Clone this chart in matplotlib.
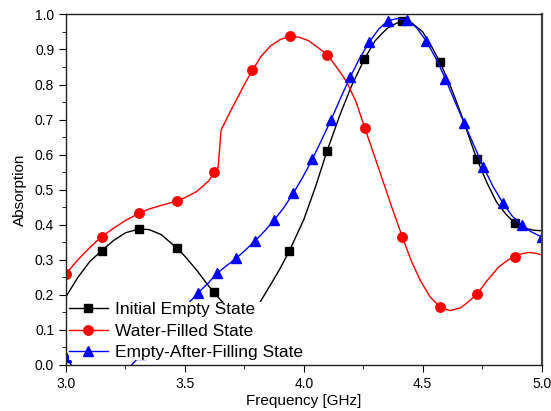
import numpy as np
import matplotlib.pyplot as plt
from matplotlib.ticker import MultipleLocator, FormatStrFormatter

plt.rcParams['font.family'] = ['Liberation Sans', 'DejaVu Sans']

# Initial empty state (black squares)
f_empty = [3.00, 3.05, 3.10, 3.15, 3.20, 3.25, 3.307, 3.35, 3.40, 3.467, 3.50, 3.55,
           3.60, 3.624, 3.65, 3.70, 3.75, 3.80, 3.83, 3.87, 3.90, 3.939, 4.00, 4.05,
           4.098, 4.15, 4.20, 4.255, 4.30, 4.35, 4.39, 4.414, 4.45, 4.50, 4.54,
           4.573, 4.62, 4.67, 4.70, 4.727, 4.77, 4.81, 4.85, 4.888, 4.93, 4.97, 5.00]
a_empty = [0.195, 0.25, 0.295, 0.326, 0.355, 0.377, 0.388, 0.386, 0.372, 0.333, 0.31, 0.27,
           0.225, 0.207, 0.185, 0.155, 0.14, 0.16, 0.195, 0.24, 0.275, 0.325, 0.415, 0.51,
           0.611, 0.71, 0.795, 0.873, 0.925, 0.96, 0.975, 0.98, 0.978, 0.95, 0.905,
           0.863, 0.79, 0.7, 0.64, 0.588, 0.52, 0.465, 0.43, 0.404, 0.39, 0.384, 0.383]
m_empty = [3.15, 3.307, 3.467, 3.624, 3.939, 4.098, 4.255, 4.414, 4.573, 4.727, 4.888]

# Water-filled state (red circles)
f_water = [3.00, 3.05, 3.10, 3.15, 3.20, 3.25, 3.307, 3.35, 3.40, 3.467, 3.50, 3.55,
           3.60, 3.624, 3.64, 3.652, 3.70, 3.75, 3.783, 3.82, 3.86, 3.90, 3.941, 3.98,
           4.02, 4.06, 4.099, 4.152, 4.18, 4.22, 4.257, 4.30, 4.35, 4.374, 4.414, 4.45,
           4.489, 4.53, 4.573, 4.615, 4.66, 4.70, 4.73, 4.77, 4.82, 4.86, 4.888, 4.92,
           4.95, 4.98, 5.00]
a_water = [0.26, 0.30, 0.335, 0.366, 0.39, 0.412, 0.433, 0.445, 0.455, 0.468, 0.477, 0.495,
           0.525, 0.549, 0.565, 0.67, 0.735, 0.8, 0.84, 0.88, 0.91, 0.928, 0.937, 0.935,
           0.925, 0.905, 0.885, 0.836, 0.808, 0.75, 0.675, 0.59, 0.49, 0.442, 0.366, 0.3,
           0.242, 0.195, 0.165, 0.155, 0.163, 0.185, 0.203, 0.24, 0.28, 0.3, 0.309, 0.318,
           0.321, 0.318, 0.314]
m_water = [3.00, 3.15, 3.307, 3.467, 3.624, 3.783, 3.941, 4.099, 4.257, 4.414, 4.573,
           4.73, 4.888]

# Empty-after-filling state (blue triangles)
f_after = [3.00, 3.04, 3.08, 3.12, 3.16, 3.20, 3.24, 3.276, 3.316, 3.36, 3.40, 3.44,
           3.48, 3.52, 3.556, 3.60, 3.634, 3.675, 3.715, 3.755, 3.795, 3.835, 3.875,
           3.915, 3.956, 3.995, 4.036, 4.075, 4.115, 4.155, 4.194, 4.235, 4.274, 4.315,
           4.353, 4.393, 4.433, 4.474, 4.514, 4.555, 4.595, 4.635, 4.675, 4.715, 4.755,
           4.795, 4.836, 4.876, 4.916, 4.956, 5.00]
a_after = [0.024, -0.02, -0.05, -0.065, -0.065, -0.05, -0.025, 0.0, 0.03, 0.065, 0.095, 0.125,
           0.152, 0.18, 0.206, 0.235, 0.261, 0.283, 0.304, 0.328, 0.354, 0.382, 0.413,
           0.448, 0.49, 0.535, 0.587, 0.642, 0.70, 0.762, 0.82, 0.875, 0.92, 0.958,
           0.982, 0.988, 0.984, 0.962, 0.925, 0.875, 0.817, 0.752, 0.689, 0.627, 0.565,
           0.51, 0.463, 0.425, 0.399, 0.38, 0.365]
m_after = [3.00, 3.076, 3.156, 3.236, 3.316, 3.556, 3.634, 3.715, 3.795, 3.875, 3.956,
           4.036, 4.115, 4.194, 4.274, 4.353, 4.433, 4.514, 4.595, 4.675, 4.755, 4.836,
           4.916, 5.00]

fig = plt.figure(figsize=(5.51, 4.11), dpi=100)
ax = fig.add_axes([0.1198, 0.112, 0.8632, 0.853])


def marks(f, m):
    f = np.array(f)
    return [int(np.argmin(np.abs(f - v))) for v in m if np.min(np.abs(f - v)) < 0.005]


ax.plot(f_empty, a_empty, color='black', lw=1.0, marker='s', ms=6,
        markevery=marks(f_empty, m_empty), label='Initial Empty State')
ax.plot(f_water, a_water, color='red', lw=1.0, marker='o', ms=6.8,
        markevery=marks(f_water, m_water), label='Water-Filled State')
ax.plot(f_after, a_after, color='blue', lw=1.0, marker='^', ms=7.2,
        markevery=marks(f_after, m_after), label='Empty-After-Filling State')

ax.set_xlim(3.0, 5.0)
ax.set_ylim(0.0, 1.0)
ax.xaxis.set_major_locator(MultipleLocator(0.5))
ax.xaxis.set_minor_locator(MultipleLocator(0.25))
ax.yaxis.set_major_locator(MultipleLocator(0.1))
ax.yaxis.set_minor_locator(MultipleLocator(0.05))
ax.xaxis.set_major_formatter(FormatStrFormatter('%.1f'))
ax.yaxis.set_major_formatter(FormatStrFormatter('%.1f'))
ax.tick_params(which='both', direction='out', top=False, right=False, labelsize=10)
ax.tick_params(which='major', length=5)
ax.tick_params(which='minor', length=3)
for s in ax.spines.values():
    s.set_color('#222222')
    s.set_linewidth(1.0)
ax.spines['right'].set_color('#444444')
ax.spines['right'].set_linewidth(1.6)

ax.set_xlabel('Frequency [GHz]', fontsize=11, labelpad=2)
ax.set_ylabel('Absorption', fontsize=11, labelpad=6)

leg = ax.legend(loc='lower left', bbox_to_anchor=(0.007, 0.014), fontsize=12.5,
                frameon=True, fancybox=False, edgecolor='none', facecolor='white',
                framealpha=1, handlelength=2.2, handletextpad=0.45, labelspacing=0.36,
                borderpad=0.0, borderaxespad=0.0)

fig.savefig('out.png', dpi=100)
